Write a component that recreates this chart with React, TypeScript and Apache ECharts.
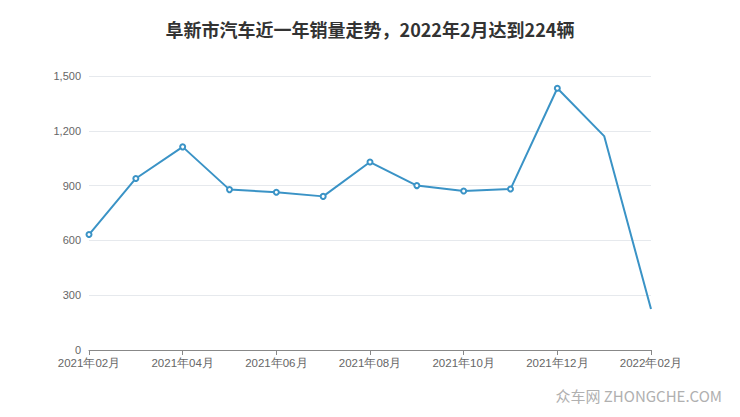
import React, { useEffect, useRef } from "react";
import * as echarts from "echarts";

const months = [
  "2021年02月", "2021年03月", "2021年04月", "2021年05月", "2021年06月", "2021年07月",
  "2021年08月", "2021年09月", "2021年10月", "2021年11月", "2021年12月", "2022年01月", "2022年02月",
];
const sales = [632, 939, 1112, 878, 864, 841, 1029, 900, 870, 881, 1433, 1171, 224];
const titleText = "阜新市汽车近一年销量走势，2022年2月达到224辆";
const watermark = "众车网 ZHONGCHE.COM";

export default function App() {
  const ref = useRef<HTMLDivElement>(null);
  useEffect(() => {
    document.body.style.margin = "0";
    const chart = echarts.init(ref.current!, null, { renderer: "svg" });
    chart.setOption({
      animation: false,
      title: {
        text: titleText,
        left: "center",
        top: 15,
        textStyle: { fontSize: 18, fontWeight: "bold", color: "#333", fontFamily: "Noto Sans CJK SC" },
      },
      graphic: [
        {
          type: "text",
          right: 18,
          top: 388,
          style: { text: watermark, fill: "#b0b0b0", font: "15px 'Noto Sans CJK SC'" },
        },
      ],
      grid: { left: 89, right: 89, top: 76, bottom: 67 },
      xAxis: {
        type: "category",
        data: months,
        boundaryGap: false,
        axisLine: { lineStyle: { color: "#888" } },
        axisTick: { interval: 1, length: 5, lineStyle: { color: "#888" } },
        axisLabel: { interval: 1, color: "#666", fontSize: 11.5, margin: 7 },
      },
      yAxis: {
        type: "value",
        min: 0,
        max: 1500,
        interval: 300,
        axisLine: { show: false },
        axisTick: { show: false },
        axisLabel: { color: "#666", fontSize: 11, margin: 8 },
        splitLine: { lineStyle: { color: "#e6e9ed" } },
      },
      series: [
        {
          type: "line",
          data: sales,
          symbol: (_v: any, p: any) => (p.dataIndex >= 11 ? "none" : "emptyCircle"),
          symbolSize: 5,
          lineStyle: { color: "#3a93c6", width: 2 },
          itemStyle: { color: "#3a93c6", borderWidth: 1.5 },
        },
      ],
    });
    return () => chart.dispose();
  }, []);
  return <div ref={ref} style={{ width: 740, height: 417 }} />;
}
